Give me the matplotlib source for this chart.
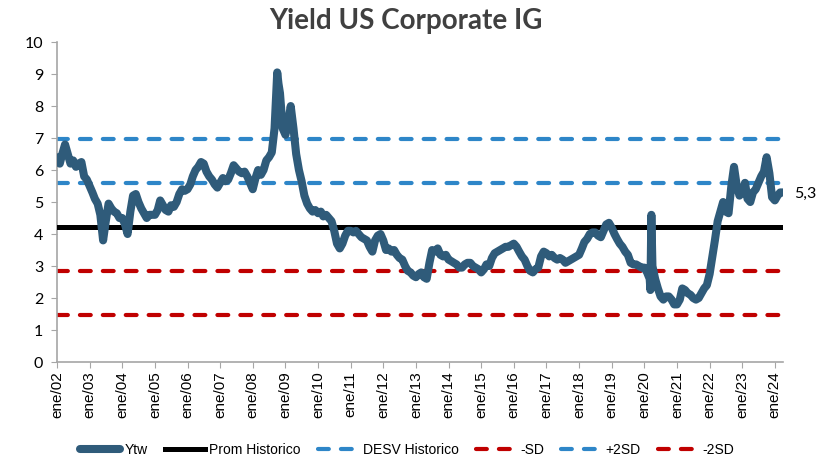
import matplotlib
matplotlib.use("Agg")
import matplotlib.pyplot as plt
import pandas as pd

# Monthly yield values (start of each month), Jan 2002 .. Apr 2024
ytw_monthly = [
    # 2002
    6.4, 6.2, 6.5, 6.8, 6.5, 6.2, 6.3, 6.1, 6.2, 6.25, 5.8, 5.7,
    # 2003
    5.5, 5.3, 5.1, 4.95, 4.6, 3.8, 4.4, 4.95, 4.8, 4.7, 4.65, 4.5,
    # 2004
    4.5, 4.3, 4.0, 4.7, 5.2, 5.25, 5.0, 4.8, 4.65, 4.5, 4.6, 4.6,
    # 2005
    4.6, 4.75, 5.05, 4.9, 4.75, 4.7, 4.9, 4.85, 5.0, 5.25, 5.4, 5.35,
    # 2006
    5.4, 5.55, 5.8, 6.0, 6.1, 6.25, 6.2, 5.95, 5.8, 5.7, 5.55, 5.45,
    # 2007
    5.6, 5.75, 5.65, 5.7, 5.9, 6.15, 6.05, 5.95, 5.9, 5.95, 5.8, 5.6,
    # 2008
    5.4, 5.75, 6.0, 5.85, 6.0, 6.3, 6.4, 6.55, 7.3, 9.05, 8.4, 7.3,
    # 2009
    7.1, 7.5, 8.0, 7.3, 6.5, 6.0, 5.65, 5.2, 4.95, 4.8, 4.7, 4.75,
    # 2010
    4.65, 4.7, 4.55, 4.6, 4.5, 4.4, 4.1, 3.7, 3.55, 3.7, 3.95, 4.1,
    # 2011
    4.1, 4.05, 4.1, 4.0, 3.9, 3.85, 3.8, 3.6, 3.45, 3.8, 3.95, 4.0,
    # 2012
    3.8, 3.5, 3.55, 3.45, 3.5, 3.35, 3.25, 3.2, 3.0, 2.85, 2.8, 2.7,
    # 2013
    2.65, 2.75, 2.8, 2.65, 2.6, 3.1, 3.5, 3.45, 3.55, 3.35, 3.3, 3.35,
    # 2014
    3.2, 3.15, 3.1, 3.05, 2.95, 2.95, 3.05, 3.1, 3.1, 3.0, 2.95, 2.9,
    # 2015
    2.8, 2.9, 3.05, 3.0, 3.25, 3.4, 3.45, 3.5, 3.55, 3.6, 3.6, 3.65,
    # 2016
    3.7, 3.6, 3.45, 3.3, 3.2, 3.0, 2.85, 2.8, 2.9, 2.95, 3.3, 3.45,
    # 2017
    3.4, 3.3, 3.35, 3.25, 3.2, 3.25, 3.2, 3.1, 3.15, 3.2, 3.25, 3.3,
    # 2018
    3.35, 3.55, 3.75, 3.85, 4.0, 4.05, 4.05, 3.95, 3.9, 4.1, 4.3, 4.35,
    # 2019
    4.2, 4.0, 3.85, 3.7, 3.6, 3.45, 3.35, 3.1, 3.05, 3.05, 3.0, 2.95,
    # 2020
    2.95, 2.8, 2.6, 3.0, 2.6, 2.3, 2.05, 1.95, 2.05, 2.05, 1.95, 1.8,
    # 2021
    1.8, 1.95, 2.3, 2.25, 2.15, 2.1, 2.0, 1.95, 2.0, 2.15, 2.3, 2.4,
    # 2022
    2.75, 3.3, 3.8, 4.4, 4.7, 5.0, 4.7, 4.65, 5.5, 6.1, 5.5, 5.2,
    # 2023
    5.3, 5.6, 5.1, 5.0, 5.3, 5.4, 5.6, 5.8, 5.95, 6.4, 5.9, 5.15,
    # 2024
    5.05, 5.2, 5.3, 5.3,
]
# Intra-month points (covid spike, Lehman peak)
extra_dates = ["2008-10-15", "2020-03-09", "2020-03-20", "2020-03-27"]
extra_values = [8.7, 2.25, 4.6, 3.6]

mean_hist = 4.22
sd_hist = 1.37
last_label = "5,3"

year_labels = ["ene/%02d" % y for y in range(2, 25)]

monthly_dates = pd.date_range("2002-01-01", periods=len(ytw_monthly), freq="MS")
s = pd.concat([
    pd.Series(ytw_monthly, index=monthly_dates),
    pd.Series(extra_values, index=pd.to_datetime(extra_dates)),
]).sort_index()

fig = plt.figure(figsize=(8.31, 4.67), dpi=100)
ax = fig.add_axes([0.0686, 0.2248, 0.8736, 0.6852])

x0, x1 = s.index[0], s.index[-1]
line_col = "#2f5b7a"
blue = "#2e86c8"
red = "#c00000"

ax.plot(s.index, s.values, color=line_col, lw=5.8, solid_capstyle="round",
        solid_joinstyle="round", label="Ytw", zorder=4)
ax.plot([x0, x1], [mean_hist, mean_hist], color="black", lw=3.6, label="Prom Historico", zorder=3)
dash = dict(lw=3, dashes=(2.6, 2.9), dash_capstyle="round", zorder=2)
ax.plot([x0, x1], [mean_hist + sd_hist] * 2, color=blue, label="DESV Historico", **dash)
ax.plot([x0, x1], [mean_hist - sd_hist] * 2, color=red, label="-SD", **dash)
ax.plot([x0, x1], [mean_hist + 2 * sd_hist] * 2, color=blue, label="+2SD", **dash)
ax.plot([x0, x1], [mean_hist - 2 * sd_hist] * 2, color=red, label="-2SD", **dash)

ax.set_xlim(x0, x1)
ax.set_ylim(0, 10)
ax.set_yticks(range(0, 11))
ax.tick_params(axis="y", labelsize=11.5, length=4, color="#a6a6a6", pad=6)
ticks = pd.date_range("2002-01-01", "2024-01-01", freq="YS")
ax.set_xticks(ticks)
ax.set_xticklabels(year_labels, rotation=90, fontsize=11, family="Liberation Sans")
ax.tick_params(axis="x", length=4, color="#a6a6a6", pad=3)
for lab in ax.get_yticklabels():
    lab.set_family("Lato")
for sp in ["top", "right"]:
    ax.spines[sp].set_visible(False)
for sp in ["left", "bottom"]:
    ax.spines[sp].set_color("#a6a6a6")
    ax.spines[sp].set_linewidth(1.2)

ax.annotate(last_label, xy=(x1, s.values[-1]), xytext=(8, -1), textcoords="offset points",
            va="center", ha="left", fontsize=11.5, family="Lato", annotation_clip=False)

fig.text(0.488, 0.955, "Yield US Corporate IG", ha="center", va="center",
         fontsize=20, fontweight="bold", color="#404040", family="Lato")

fig.legend(loc="lower center", bbox_to_anchor=(0.49, -0.005), ncol=6, frameon=False,
           handlelength=2.9, columnspacing=1.25, handletextpad=0.3,
           prop={"family": "Liberation Sans", "size": 10})

fig.savefig("out.png", dpi=100)
